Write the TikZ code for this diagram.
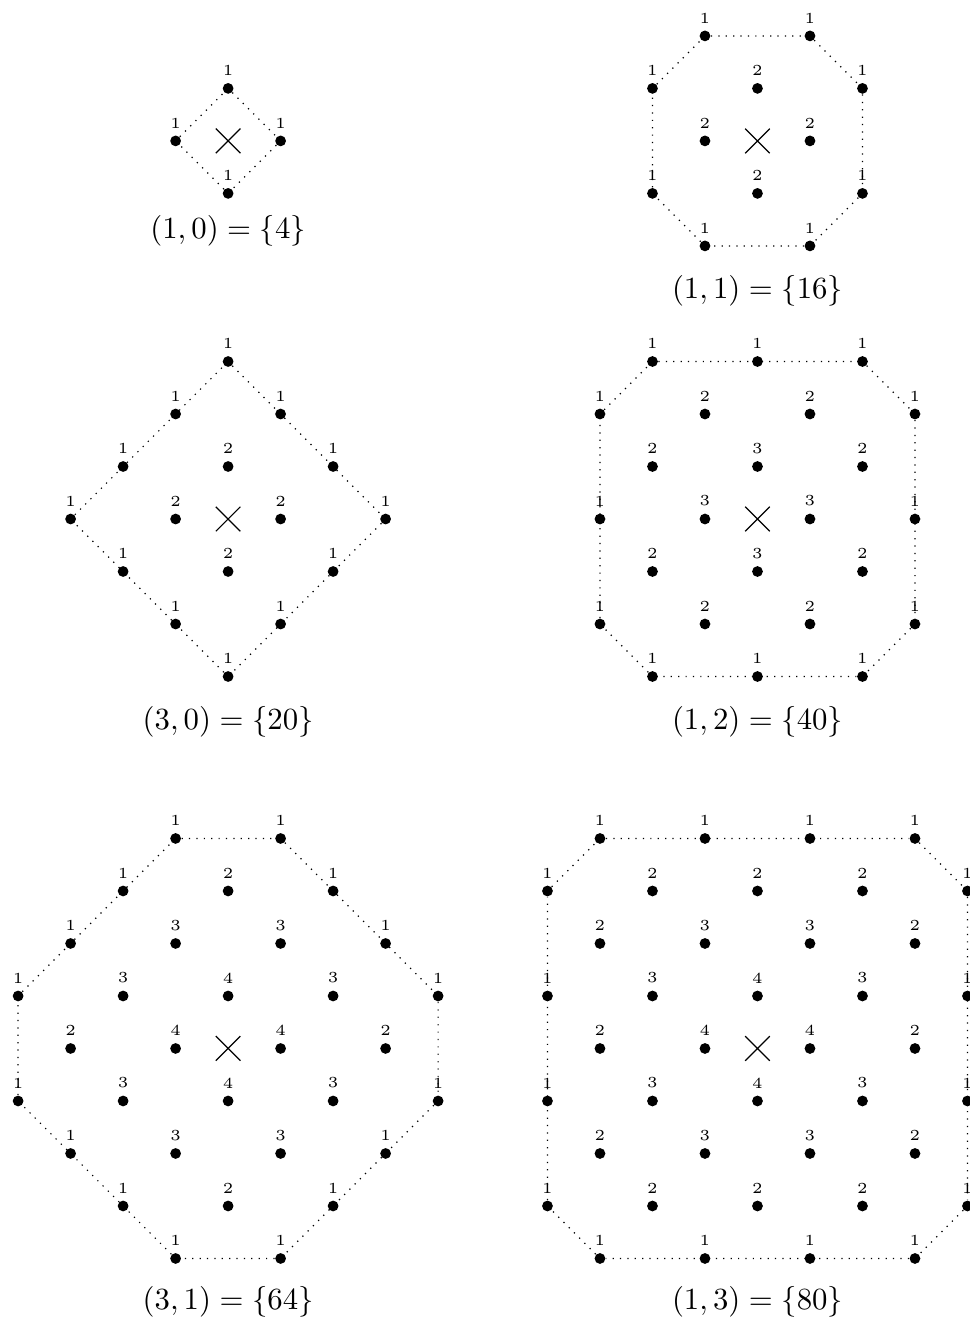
\documentclass[tikz,border=0pt]{standalone}
\usepackage{amsmath, amssymb}
\usepackage{tikz}
\usetikzlibrary{shapes.misc}

\tikzset{
    wdot/.style={circle, fill=black, inner sep=0pt, minimum size=3.5pt},
    mult/.style={font=\tiny, inner sep=2pt},
    hull/.style={dotted},
    origin/.style={draw, cross out, inner sep=0pt, minimum size=7.6pt},
}

\begin{document}
\begin{tikzpicture}[x=0.6cm, y=0.6cm]

    \useasboundingbox (0,0) rectangle (18.457,-25.143);

    % =================================================================
    % 1. (1,0) = {4}
    % =================================================================
    \begin{scope}[shift={(4.345,-2.684)}]
        \node[origin] (Ao) at (0,0) {};
        \foreach \x/\y/\m in {0/1/1, -1/0/1, 1/0/1, 0/-1/1}
            \node[wdot, label={[mult]above:\m}] (Ax\x y\y) at (\x,\y) {};
        \draw[hull] (Ax0y1) -- (Ax1y0) -- (Ax0y-1) -- (Ax-1y0) -- (Ax0y1);
        \node (Alab) at (0,-1.714) {$(1,0) = \{4\}$};
    \end{scope}

    % =================================================================
    % 2. (1,1) = {16}
    % =================================================================
    \begin{scope}[shift={(14.428,-2.684)}]
        \node[origin] (Bo) at (0,0) {};
        \foreach \x/\y/\m in {-1/2/1, 1/2/1,
                              -2/1/1, 0/1/2, 2/1/1,
                              -1/0/2, 1/0/2,
                              -2/-1/1, 0/-1/2, 2/-1/1,
                              -1/-2/1, 1/-2/1}
            \node[wdot, label={[mult]above:\m}] (Bx\x y\y) at (\x,\y) {};
        \draw[hull] (Bx-1y2) -- (Bx1y2) -- (Bx2y1) -- (Bx2y-1) -- (Bx1y-2)
            -- (Bx-1y-2) -- (Bx-2y-1) -- (Bx-2y1) -- (Bx-1y2);
        \node (Blab) at (0,-2.863) {$(1,1) = \{16\}$};
    \end{scope}

    % =================================================================
    % 3. (3,0) = {20}
    % =================================================================
    \begin{scope}[shift={(4.345,-9.886)}]
        \node[origin] (Co) at (0,0) {};
        % bord du losange
        \foreach \x/\y in {0/3, 1/2, 2/1, 3/0, 2/-1, 1/-2,
                           0/-3, -1/-2, -2/-1, -3/0, -2/1, -1/2}
            \node[wdot, label={[mult]above:1}] (Cx\x y\y) at (\x,\y) {};
        % interieur
        \foreach \x/\y in {0/1, -1/0, 1/0, 0/-1}
            \node[wdot, label={[mult]above:2}] (Cx\x y\y) at (\x,\y) {};
        \draw[hull] (Cx0y3) -- (Cx3y0) -- (Cx0y-3) -- (Cx-3y0) -- (Cx0y3);
        \node (Clab) at (0,-3.867) {$(3,0) = \{20\}$};
    \end{scope}

    % =================================================================
    % 4. (1,2) = {40}
    % =================================================================
    \begin{scope}[shift={(14.428,-9.886)}]
        \node[origin] (Do) at (0,0) {};
        \foreach \x/\y/\m in {-2/3/1, 0/3/1, 2/3/1,
                              -3/2/1, -1/2/2, 1/2/2, 3/2/1,
                              -2/1/2, 0/1/3, 2/1/2,
                              -3/0/1, -1/0/3, 1/0/3, 3/0/1,
                              -2/-1/2, 0/-1/3, 2/-1/2,
                              -3/-2/1, -1/-2/2, 1/-2/2, 3/-2/1,
                              -2/-3/1, 0/-3/1, 2/-3/1}
            \node[wdot, label={[mult]above:\m}] (Dx\x y\y) at (\x,\y) {};
        \draw[hull] (Dx-2y3) -- (Dx2y3) -- (Dx3y2) -- (Dx3y-2) -- (Dx2y-3)
            -- (Dx-2y-3) -- (Dx-3y-2) -- (Dx-3y2) -- (Dx-2y3);
        \node (Dlab) at (0,-3.867) {$(1,2) = \{40\}$};
    \end{scope}

    % =================================================================
    % 5. (3,1) = {64}
    % =================================================================
    \begin{scope}[shift={(4.345,-19.971)}]
        \node[origin] (Eo) at (0,0) {};
        \foreach \x/\y/\m in {-1/4/1, 1/4/1,
                              -2/3/1, 0/3/2, 2/3/1,
                              -3/2/1, -1/2/3, 1/2/3, 3/2/1,
                              -4/1/1, -2/1/3, 0/1/4, 2/1/3, 4/1/1,
                              -3/0/2, -1/0/4, 1/0/4, 3/0/2,
                              -4/-1/1, -2/-1/3, 0/-1/4, 2/-1/3, 4/-1/1,
                              -3/-2/1, -1/-2/3, 1/-2/3, 3/-2/1,
                              -2/-3/1, 0/-3/2, 2/-3/1,
                              -1/-4/1, 1/-4/1}
            \node[wdot, label={[mult]above:\m}] (Ex\x y\y) at (\x,\y) {};
        \draw[hull] (Ex-1y4) -- (Ex1y4) -- (Ex4y1) -- (Ex4y-1) -- (Ex1y-4)
            -- (Ex-1y-4) -- (Ex-4y-1) -- (Ex-4y1) -- (Ex-1y4);
        \node (Elab) at (0,-4.83) {$(3,1) = \{64\}$};
    \end{scope}

    % =================================================================
    % 6. (1,3) = {80}
    % =================================================================
    \begin{scope}[shift={(14.428,-19.971)}]
        \node[origin] (Fo) at (0,0) {};
        \foreach \x/\y/\m in {-3/4/1, -1/4/1, 1/4/1, 3/4/1,
                              -4/3/1, -2/3/2, 0/3/2, 2/3/2, 4/3/1,
                              -3/2/2, -1/2/3, 1/2/3, 3/2/2,
                              -4/1/1, -2/1/3, 0/1/4, 2/1/3, 4/1/1,
                              -3/0/2, -1/0/4, 1/0/4, 3/0/2,
                              -4/-1/1, -2/-1/3, 0/-1/4, 2/-1/3, 4/-1/1,
                              -3/-2/2, -1/-2/3, 1/-2/3, 3/-2/2,
                              -4/-3/1, -2/-3/2, 0/-3/2, 2/-3/2, 4/-3/1,
                              -3/-4/1, -1/-4/1, 1/-4/1, 3/-4/1}
            \node[wdot, label={[mult]above:\m}] (Fx\x y\y) at (\x,\y) {};
        \draw[hull] (Fx-3y4) -- (Fx3y4) -- (Fx4y3) -- (Fx4y-3) -- (Fx3y-4)
            -- (Fx-3y-4) -- (Fx-4y-3) -- (Fx-4y3) -- (Fx-3y4);
        \node (Flab) at (0,-4.83) {$(1,3) = \{80\}$};
    \end{scope}

\end{tikzpicture}
\end{document}
